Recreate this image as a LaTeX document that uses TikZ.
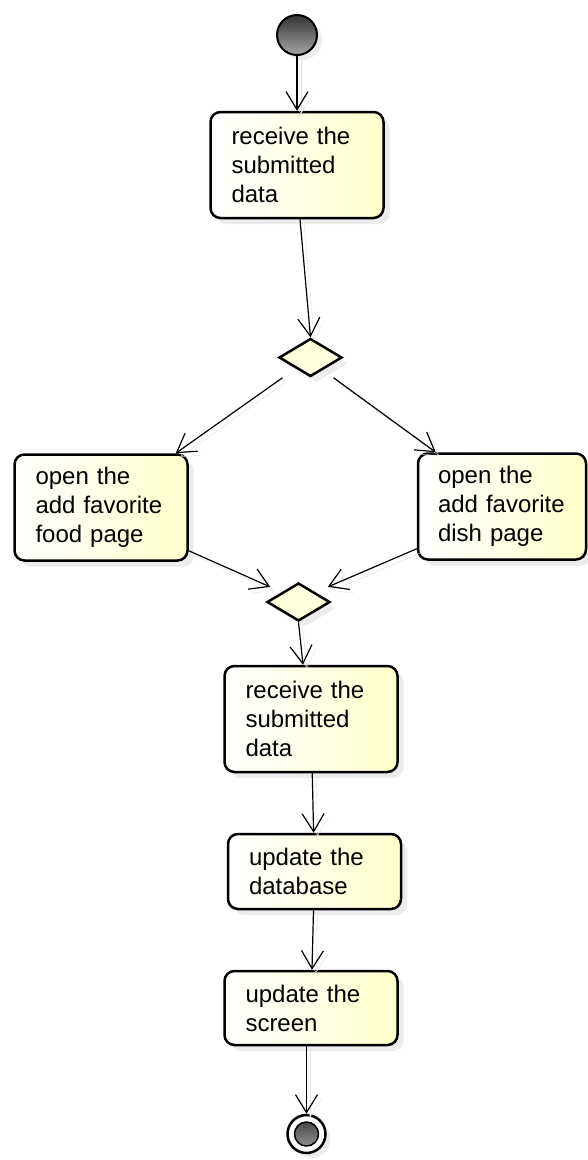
\documentclass[tikz,border=0pt]{standalone}
\usepackage{fontspec}
\setmainfont{Liberation Sans}
\usetikzlibrary{shapes.geometric, arrows.meta, shadows}
\definecolor{actyellow}{RGB}{255,255,204}
\definecolor{decyellow}{RGB}{255,255,221}

\begin{document}
\begin{tikzpicture}[
  x=1pt, y=-1pt,
  every node/.style={font=\fontsize{24}{29}\selectfont},
  act/.style={draw, line width=2.5pt, rounded corners=10pt, align=left,
    text width=131pt, inner xsep=21pt, minimum height=106pt,
    left color=white, right color=actyellow,
    drop shadow={shadow xshift=6pt, shadow yshift=-6pt, fill=black!15}},
  decision/.style={diamond, draw, line width=2.5pt, fill=decyellow,
    aspect=1.6, minimum width=63pt, minimum height=38pt, inner sep=0pt,
    drop shadow={shadow xshift=6pt, shadow yshift=-6pt, fill=black!15}},
  initial/.style={circle, draw, line width=2pt, minimum size=40pt, inner sep=0pt,
    top color=black!80, bottom color=black!35,
    drop shadow={shadow xshift=5pt, shadow yshift=-5pt, fill=black!15}},
  final/.style={circle, draw, line width=2.5pt, fill=white, minimum size=38pt, inner sep=0pt,
    path picture={\shadedraw[line width=1.5pt, top color=black!80, bottom color=black!35]
      (path picture bounding box.center) circle (12pt);},
    drop shadow={shadow xshift=5pt, shadow yshift=-5pt, fill=black!15}},
  flow/.style={draw, line width=1.2pt, -{Straight Barb[length=18pt, width=22pt]},
    preaction={draw=black!12, transform canvas={shift={(4pt,-4pt)}}}}
]
\useasboundingbox (0,0) rectangle (588,1160);

% activities
\node[initial] (start) at (297,35) {};
\node[act] (recv1) at (297,165) {receive the\\submitted\\data};
\node[decision] (dec1) at (310.5,357.5) {};
\node[act] (food) at (101,507.5) {open the\\add favorite\\food page};
\node[act, text width=128pt, inner xsep=20pt] (dish) at (502,506.5) {open the\\add favorite\\dish page};
\node[decision] (dec2) at (298.5,602) {};
\node[act] (recv2) at (311,719) {receive the\\submitted\\data};
\node[act, minimum height=75pt] (upd1) at (314.5,871.5) {update the\\database};
\node[act, minimum height=74pt] (upd2) at (311,1008) {update the\\screen};
\node[final] (final) at (306.5,1134) {};

% control flows
\draw[flow] (start) -- (recv1);
\draw[flow] ([xshift=3pt]recv1.south) -- (dec1.north);
\draw[flow] ([xshift=-28pt]dec1.south) -- ([xshift=-13pt]food.north east);
\draw[flow] ([xshift=23pt]dec1.south) -- ([xshift=19pt]dish.north west);
\draw[flow] ([yshift=11pt]food.south east) -- ([shift={(-12pt,5pt)}]dec2.north west);
\draw[flow] ([yshift=12pt]dish.south west) -- ([shift={(13pt,5pt)}]dec2.north east);
\draw[flow] (dec2.south) -- ([xshift=-8pt]recv2.north);
\draw[flow] (recv2) -- (upd1);
\draw[flow] (upd1) -- (upd2);
\draw[flow] (final |- upd2.south) -- (final);
\end{tikzpicture}
\end{document}
